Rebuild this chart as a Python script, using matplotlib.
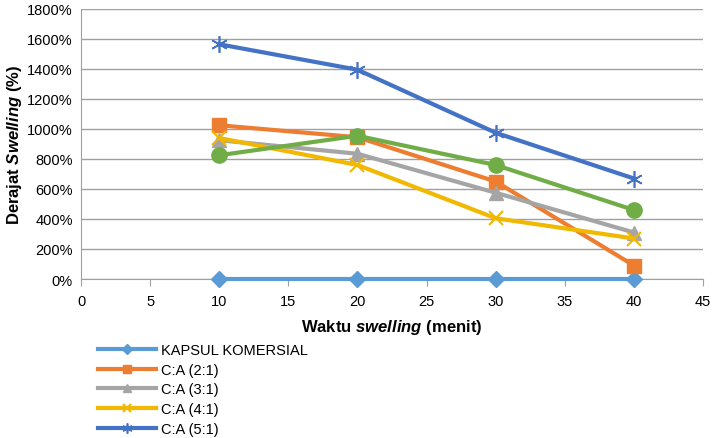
import numpy as np
import matplotlib.pyplot as plt
from matplotlib.ticker import FuncFormatter

plt.rcParams['font.family'] = ['Liberation Sans', 'DejaVu Sans']
plt.rcParams['mathtext.fontset'] = 'custom'
plt.rcParams['mathtext.it'] = 'Liberation Sans:italic:bold'
plt.rcParams['mathtext.rm'] = 'Liberation Sans:bold'

# data
waktu = [10, 20, 30, 40]
kapsul = [0, 0, 0, 0]
ca_21 = [1025, 945, 650, 90]
ca_31 = [925, 835, 575, 310]
ca_41 = [940, 760, 405, 270]
ca_51 = [1565, 1395, 975, 670]
ca_hijau = [825, 955, 760, 460]

fig = plt.figure(figsize=(7.13, 4.39), dpi=100)
ax = fig.add_axes([81 / 713, 1 - 280 / 439, 622 / 713, 270 / 439])

lw = 3
ax.plot(waktu, kapsul, color='#5B9BD5', lw=lw, marker='D', ms=8, label='KAPSUL KOMERSIAL', zorder=3, clip_on=False)
ax.plot(waktu, ca_21, color='#ED7D31', lw=lw, marker='s', ms=10, label='C:A (2:1)', zorder=3, clip_on=False)
ax.plot(waktu, ca_31, color='#A5A5A5', lw=lw, marker='^', ms=10, label='C:A (3:1)', zorder=3, clip_on=False)
ax.plot(waktu, ca_41, color='#F2B800', lw=lw, marker='x', ms=10, mew=1.5, label='C:A (4:1)', zorder=3, clip_on=False)
ax.plot(waktu, ca_51, color='#4472C4', lw=lw, marker=(6, 2, 0), ms=12, mew=1.2, label='C:A (5:1)', zorder=3, clip_on=False)
ax.plot(waktu, ca_hijau, color='#70AD47', lw=lw, marker='o', ms=11, zorder=3, clip_on=False)

ax.set_xlim(0, 45)
ax.set_ylim(0, 1800)
ax.set_xticks(np.arange(0, 46, 5))
ax.set_yticks(np.arange(0, 1801, 200))
ax.yaxis.set_major_formatter(FuncFormatter(lambda v, p: f'{int(v)}%'))
ax.grid(axis='y', color='#A0A0A0', lw=1)
ax.set_axisbelow(True)
for s in ['top', 'right']:
    ax.spines[s].set_visible(False)
for s in ['left', 'bottom']:
    ax.spines[s].set_color('#A0A0A0')
ax.tick_params(axis='y', length=0, labelsize=10.5, labelcolor='black', pad=6)
ax.tick_params(axis='x', length=5, color='#A0A0A0', labelsize=10.5, labelcolor='black', pad=6)

ax.set_xlabel('Waktu $\\it{swelling}$ (menit)', fontsize=12, fontweight='bold', labelpad=6)
ax.set_ylabel('Derajat $\\it{Swelling}$ (%)', fontsize=12, fontweight='bold', labelpad=2)

handles, labels = ax.get_legend_handles_labels()
fig.legend(handles, labels, loc='upper left', bbox_to_anchor=(92 / 713, 1 - 338 / 439),
           frameon=False, fontsize=10.5, handlelength=4.0, labelspacing=0.4,
           handletextpad=0.3, markerscale=0.6, borderaxespad=0)

fig.savefig('out.png', dpi=100)
